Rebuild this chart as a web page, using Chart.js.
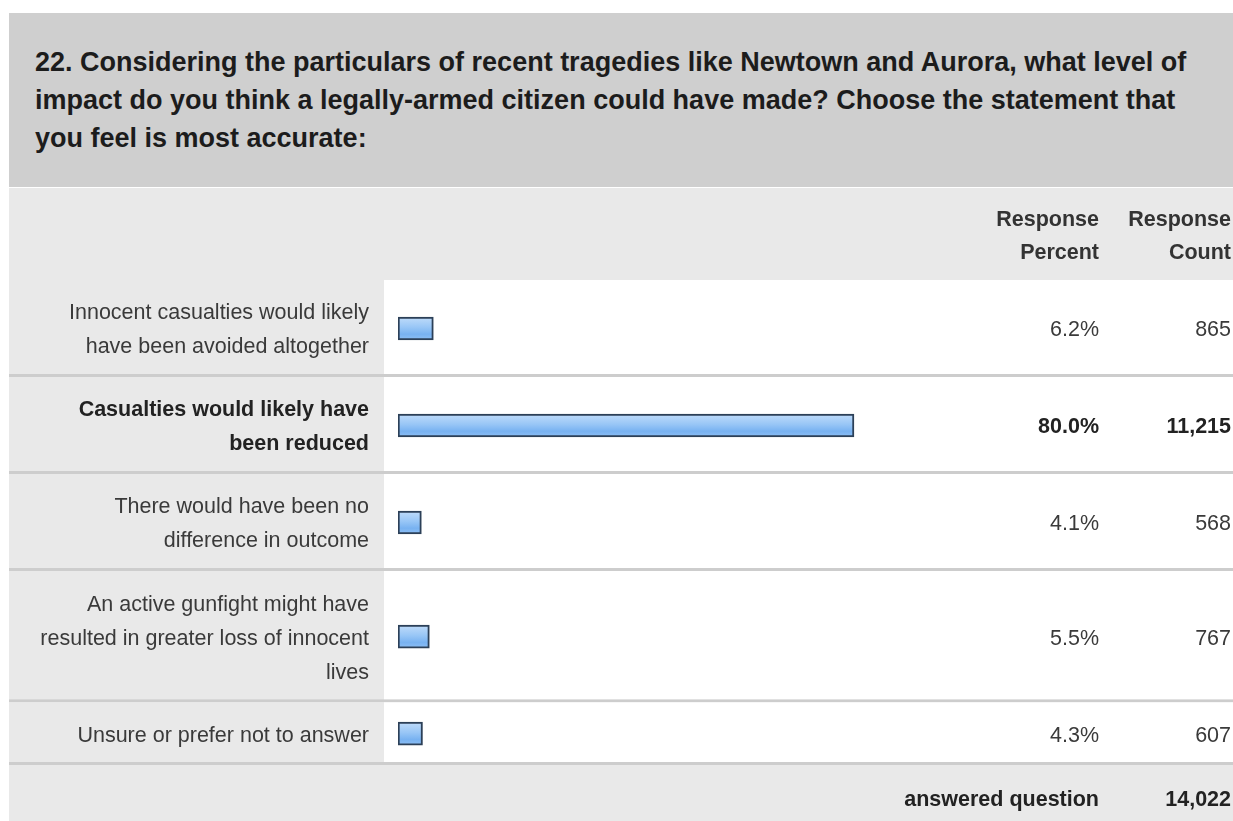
<!DOCTYPE html>
<html>
<head>
<meta charset="utf-8">
<script src="https://cdn.jsdelivr.net/npm/chart.js@4"></script>
<style>
  html, body { margin: 0; padding: 0; background: #fff; }
  #page { position: relative; width: 1233px; height: 821px; overflow: hidden; }
  #question {
    position: absolute; left: 9px; top: 13px; width: 1198px; height: 144px;
    padding: 30px 0 0 26px; background: #cfcfcf;
    font: bold 27px "Liberation Sans", Arial, Helvetica, sans-serif;
    line-height: 38px; color: #1c1c1c; white-space: nowrap;
  }
  #surveyChart { position: absolute; left: 0; top: 188px; }
</style>
</head>
<body>
<div id="page">
  <div id="question">22. Considering the particulars of recent tragedies like Newtown and Aurora, what level of<br>impact do you think a legally-armed citizen could have made? Choose the statement that<br>you feel is most accurate:</div>
  <canvas id="surveyChart" width="1233" height="633"></canvas>
</div>
<script>
// answer choices, one array entry per wrapped line
const answerLines = [
  ['Innocent casualties would likely', 'have been avoided altogether'],
  ['Casualties would likely have', 'been reduced'],
  ['There would have been no', 'difference in outcome'],
  ['An active gunfight might have', 'resulted in greater loss of innocent', 'lives'],
  ['Unsure or prefer not to answer']
];
const responsePercent = [6.2, 80.0, 4.1, 5.5, 4.3];
const responseCount = [865, 11215, 568, 767, 607];
const headerPercent = ['Response', 'Percent'];
const headerCount = ['Response', 'Count'];
const footerLabel = 'answered question';
const answeredTotal = 14022;
const topAnswer = 1; // row shown in bold

const FONT = '"Liberation Sans", Arial, Helvetica, sans-serif';
const TEXT_SIZE = 21.5;
const LINE_PX = 34;
const TABLE_LEFT = 9;
const LABEL_COL = 384;
const LABEL_RIGHT = 369;
const PCT_RIGHT = 1099;
const COUNT_RIGHT = 1231;
const TEXT_NUDGE = 2;

// row heights in "text line" units: lines + padding
const ROW_PAD = 0.82;
let acc = 0;
const rows = answerLines.map(function(lines) {
  const start = acc;
  acc += lines.length + ROW_PAD;
  return { start: start, end: acc, center: (start + acc) / 2 };
});
const rowTotal = acc;

// glossy blue fill, one gradient per bar
function barFill(c) {
  const chart = c.chart;
  if (!chart.chartArea || c.dataIndex === undefined) return '#8cbff4';
  const yc = chart.scales.y.getPixelForValue(rows[c.dataIndex].center);
  const g = chart.ctx.createLinearGradient(0, yc - 11.5, 0, yc + 11.5);
  g.addColorStop(0, '#c0dcfa');
  g.addColorStop(0.45, '#98c6f6');
  g.addColorStop(0.75, '#78b2f1');
  g.addColorStop(1, '#8ebff4');
  return g;
}

function font(weight) {
  return weight + ' ' + TEXT_SIZE + 'px ' + FONT;
}

const surveyTable = {
  id: 'surveyTable',
  beforeDraw(chart) {
    const ctx = chart.ctx, a = chart.chartArea, y = chart.scales.y;
    const w = chart.width, h = chart.height;
    ctx.save();
    ctx.fillStyle = '#e9e9e9';
    ctx.fillRect(TABLE_LEFT, 0, w - TABLE_LEFT, a.top);
    ctx.fillRect(TABLE_LEFT, a.bottom, w - TABLE_LEFT, h - a.bottom);
    rows.forEach(function(r) {
      const top = y.getPixelForValue(r.start);
      const bot = y.getPixelForValue(r.end);
      ctx.fillStyle = '#e9e9e9';
      ctx.fillRect(TABLE_LEFT, top, LABEL_COL - TABLE_LEFT, bot - top);
      ctx.fillStyle = '#ffffff';
      ctx.fillRect(LABEL_COL, top, w - LABEL_COL, bot - top);
      ctx.fillStyle = '#cdcdcd';
      ctx.fillRect(TABLE_LEFT, bot - 3, w - TABLE_LEFT, 3);
    });
    ctx.restore();
  },
  afterDraw(chart) {
    const ctx = chart.ctx, a = chart.chartArea, y = chart.scales.y;
    ctx.save();
    ctx.textAlign = 'right';
    ctx.textBaseline = 'middle';
    ctx.fillStyle = '#333';

    // column headings
    ctx.font = font('bold');
    headerPercent.forEach(function(t, i) { ctx.fillText(t, PCT_RIGHT, 32 + i * 33); });
    headerCount.forEach(function(t, i) { ctx.fillText(t, COUNT_RIGHT, 32 + i * 33); });

    // answer text, percent and count for each row
    rows.forEach(function(r, i) {
      const yc = y.getPixelForValue(r.center) + TEXT_NUDGE;
      const bold = i === topAnswer;
      ctx.font = font(bold ? 'bold' : 'normal');
      ctx.fillStyle = bold ? '#222' : '#3a3a3a';
      const lines = answerLines[i];
      lines.forEach(function(t, j) {
        ctx.fillText(t, LABEL_RIGHT, yc + (j - (lines.length - 1) / 2) * LINE_PX);
      });
      ctx.fillText(responsePercent[i].toFixed(1) + '%', PCT_RIGHT, yc);
      ctx.fillText(responseCount[i].toLocaleString('en-US'), COUNT_RIGHT, yc);
    });

    // totals row
    ctx.font = font('bold');
    ctx.fillStyle = '#222';
    ctx.fillText(footerLabel, PCT_RIGHT, a.bottom + 35);
    ctx.fillText(answeredTotal.toLocaleString('en-US'), COUNT_RIGHT, a.bottom + 35);
    ctx.restore();
  }
};

const chart = new Chart(document.getElementById('surveyChart'), {
  type: 'bar',
  data: {
    datasets: [{
      data: responsePercent.map(function(v, i) { return { x: v, y: rows[i].center }; }),
      backgroundColor: barFill,
      borderColor: '#2c4058',
      borderWidth: 2,
      borderSkipped: false,
      barThickness: 23
    }]
  },
  options: {
    indexAxis: 'y',
    responsive: false,
    animation: false,
    layout: { padding: { top: 92, bottom: 56, left: 398, right: 0 } },
    plugins: { legend: { display: false }, tooltip: { enabled: false } },
    scales: {
      x: {
        type: 'linear',
        display: false,
        min: 0,
        max: 146.5
      },
      y: {
        type: 'linear',
        display: false,
        offset: false,
        reverse: true,
        min: 0,
        max: rowTotal
      }
    }
  },
  plugins: [surveyTable]
});
</script>
</body>
</html>
